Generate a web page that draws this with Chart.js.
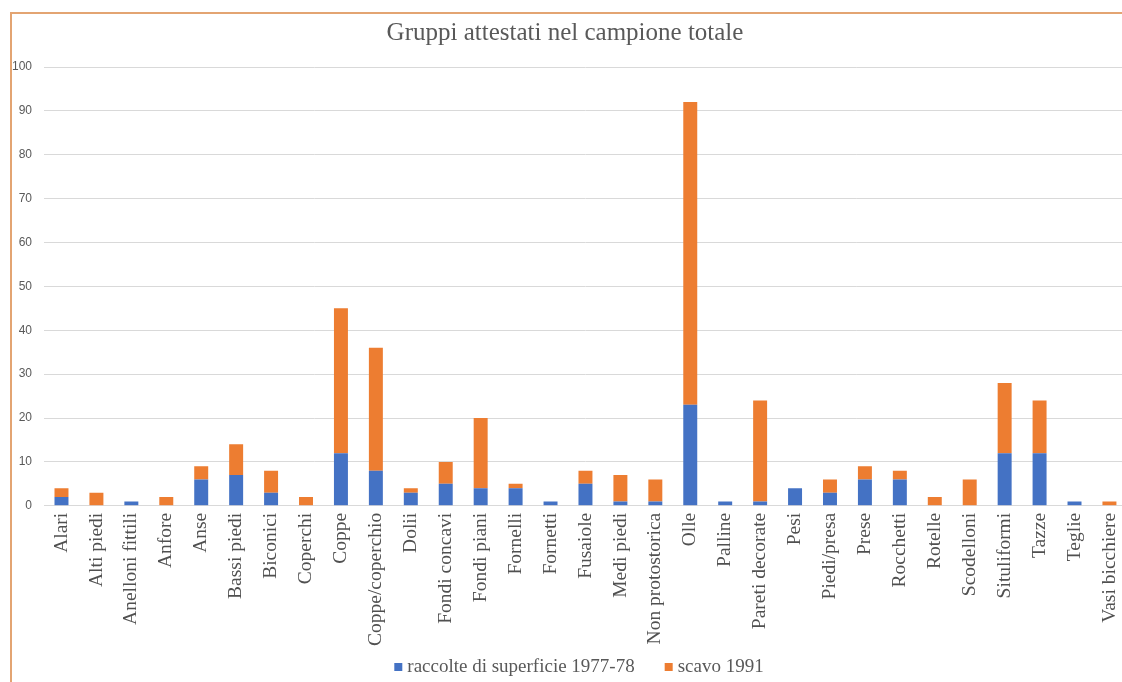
<!DOCTYPE html>
<html><head><meta charset="utf-8">
<script src="https://cdn.jsdelivr.net/npm/chart.js@4.4.1/dist/chart.umd.min.js"></script>
<style>
html,body{margin:0;padding:0;background:#fff;overflow:hidden;width:1122px;height:682px;}
#frame{position:absolute;left:10px;top:12px;width:1200px;height:700px;border-left:2px solid #E3A472;border-top:2px solid #E3A472;}
#wrap{position:absolute;left:0;top:0;width:1140px;height:682px;}
</style></head>
<body>
<div id="frame"></div>
<div id="wrap"><canvas id="c"></canvas></div>
<script>
const categories = ["Alari","Alti piedi","Anelloni fittili","Anfore","Anse","Bassi piedi","Biconici","Coperchi","Coppe","Coppe/coperchio","Dolii","Fondi concavi","Fondi piani","Fornelli","Fornetti","Fusaiole","Medi piedi","Non protostorica","Olle","Palline","Pareti decorate","Pesi","Piedi/presa","Prese","Rocchetti","Rotelle","Scodelloni","Situliformi","Tazze","Teglie","Vasi bicchiere"];
const raccolte = [2,0,1,0,6,7,3,0,12,8,3,5,4,4,1,5,1,1,23,1,1,4,3,6,6,0,0,12,12,1,0];
const scavo = [2,3,0,2,3,7,5,2,33,28,1,5,16,1,0,3,6,5,69,0,23,0,3,3,2,2,6,16,12,0,1];
const seriesNames = ["raccolte di superficie 1977-78","scavo 1991"];
const titleText = "Gruppi attestati nel campione totale";

// Legend drawn on the canvas from the datasets (Excel-like tight spacing)
const excelLegend = {
  id: 'excelLegend',
  afterDraw(chart) {
    const ctx = chart.ctx;
    const font = '19px "Liberation Serif"';
    ctx.save();
    ctx.font = font;
    const box = 8, gapBoxText = 5, gapItems = 30;
    const items = chart.data.datasets.map(ds => ({text: ds.label, color: ds.backgroundColor, w: ctx.measureText(ds.label).width}));
    let total = 0;
    items.forEach((it, i) => { total += box + gapBoxText + it.w + (i < items.length - 1 ? gapItems : 0); });
    let x = 579 - total / 2;
    const y = 667;
    ctx.textBaseline = 'middle';
    ctx.textAlign = 'left';
    items.forEach(it => {
      ctx.fillStyle = it.color;
      ctx.fillRect(x, y - box / 2, box, box);
      x += box + gapBoxText;
      ctx.fillStyle = '#595959';
      ctx.fillText(it.text, x, y);
      x += it.w + gapItems;
    });
    ctx.restore();
  }
};

new Chart(document.getElementById('c'), {
  type: 'bar',
  data: {
    labels: categories,
    datasets: [
      {label: seriesNames[0], data: raccolte, backgroundColor: '#4472C4', barPercentage: 0.8, categoryPercentage: 0.5},
      {label: seriesNames[1], data: scavo, backgroundColor: '#ED7D31', barPercentage: 0.8, categoryPercentage: 0.5}
    ]
  },
  plugins: [excelLegend],
  options: {
    responsive: true,
    maintainAspectRatio: false,
    animation: false,
    layout: {padding: {left: 0, right: 10, top: 10, bottom: 29}},
    plugins: {
      title: {display: true, text: titleText, color: '#595959', font: {family: 'Liberation Serif', size: 25, weight: 'normal'}, padding: {top: 8, bottom: 19}},
      legend: {display: false},
      tooltip: {enabled: false}
    },
    scales: {
      x: {
        stacked: true,
        grid: {display: false, drawTicks: false},
        border: {display: true, color: '#d9d9d9', width: 1},
        ticks: {color: '#505050', font: {family: 'Liberation Serif', size: 19.5}, maxRotation: 90, minRotation: 90, autoSkip: false, padding: 7}
      },
      y: {
        stacked: true,
        min: 0, max: 100,
        grid: {color: '#d9d9d9', drawTicks: false},
        border: {display: false},
        ticks: {stepSize: 10, color: '#595959', font: {family: 'Liberation Sans', size: 12}, padding: 12}
      }
    }
  }
});
</script>
</body></html>
